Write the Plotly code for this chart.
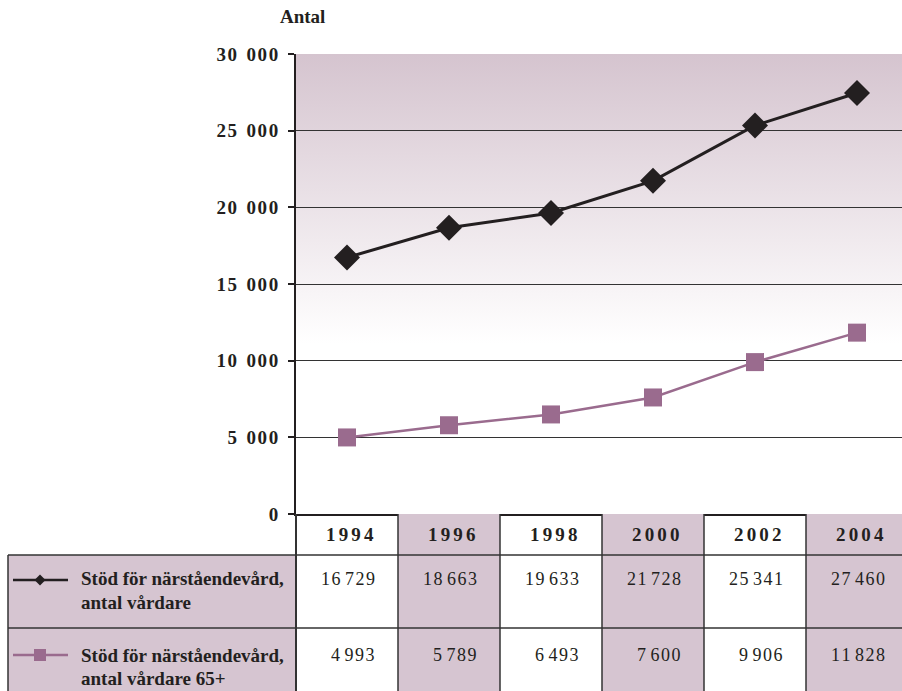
import base64
import plotly.graph_objects as go

# ---- data -------------------------------------------------------------
years = ["1994", "1996", "1998", "2000", "2002", "2004"]
vardare = [16729, 18663, 19633, 21728, 25341, 27460]
vardare_65 = [4993, 5789, 6493, 7600, 9906, 11828]
row_labels = [
    ["Stöd för närståendevård,", "antal vårdare"],
    ["Stöd för närståendevård,", "antal vårdare 65+"],
]
y_ticks = [0, 5000, 10000, 15000, 20000, 25000, 30000]
y_title = "Antal"

# ---- styling ----------------------------------------------------------
FONT = "Liberation Serif"
INK = "#231f20"
PURPLE = "#9a6b8e"
SHADE = "#d6c5d1"
RULE = "#333333"

W, H = 902, 691
L, R, T, B = 296, 0, 54, 177
PW, PH = W - L - R, H - T - B
COL_W = 102  # pixel width of one year column
X_LO = -0.5
X_HI = X_LO + PW / COL_W

HAIR, SIXTH, ENSP = "\u200a", "\u2006", "\u2002"


def px(x):
    """pixel x -> paper x"""
    return (x - L) / PW


def py(y):
    """pixel y -> paper y"""
    return (H - B - y) / PH


def spaced(n, sep, group_sep):
    groups = f"{n:,}".split(",")
    return group_sep.join(sep.join(g) for g in groups)


fig = go.Figure()

fig.add_trace(go.Scatter(
    x=years, y=vardare, mode="lines+markers",
    line=dict(color=INK, width=3),
    marker=dict(symbol="diamond", size=20, color=INK),
    hoverinfo="skip", showlegend=False, cliponaxis=False,
))
fig.add_trace(go.Scatter(
    x=years, y=vardare_65, mode="lines+markers",
    line=dict(color=PURPLE, width=2.5),
    marker=dict(symbol="square", size=18, color=PURPLE),
    hoverinfo="skip", showlegend=False, cliponaxis=False,
))

# vertical gradient behind the plotting area
svg = (
    '<svg xmlns="http://www.w3.org/2000/svg" width="10" height="100" '
    'preserveAspectRatio="none"><defs><linearGradient id="g" x1="0" y1="1" '
    'x2="0" y2="0"><stop offset="0.37" stop-color="#ffffff"/>'
    '<stop offset="1" stop-color="#d5c4cf"/></linearGradient></defs>'
    '<rect width="10" height="100" fill="url(#g)"/></svg>'
)
bg_src = "data:image/svg+xml;base64," + base64.b64encode(svg.encode()).decode()

shapes = []
annotations = []

# table geometry (pixel rows)
HEAD_TOP, HEAD_BOT = H - B, 555
ROW1_BOT, ROW2_BOT = 628, H
rows = [(HEAD_BOT, HEAD_TOP), (ROW1_BOT, HEAD_BOT), (ROW2_BOT, ROW1_BOT)]
LABEL_LEFT = 8

# shaded year columns (every second column)
for i in range(len(years)):
    if i % 2 == 1:
        for bot, top in rows:
            shapes.append(dict(type="rect", xref="x", yref="paper",
                               x0=i - 0.5, x1=i + 0.5, y0=py(bot), y1=py(top),
                               fillcolor=SHADE, line=dict(width=0), layer="above"))
# label column
shapes.append(dict(type="rect", xref="paper", yref="paper",
                   x0=px(LABEL_LEFT), x1=0, y0=py(ROW2_BOT), y1=py(HEAD_BOT),
                   fillcolor=SHADE, line=dict(width=0), layer="above"))
# table rules
for yy in (HEAD_BOT, ROW1_BOT):
    shapes.append(dict(type="line", xref="paper", yref="paper",
                       x0=px(LABEL_LEFT), x1=1, y0=py(yy), y1=py(yy),
                       line=dict(color=RULE, width=1.5), layer="above"))
shapes.append(dict(type="line", xref="paper", yref="paper",
                   x0=px(LABEL_LEFT), x1=px(LABEL_LEFT), y0=py(ROW2_BOT), y1=py(HEAD_BOT),
                   line=dict(color=RULE, width=1.5), layer="above"))
shapes.append(dict(type="line", xref="paper", yref="paper",
                   x0=0, x1=0, y0=py(ROW2_BOT), y1=0,
                   line=dict(color=RULE, width=2), layer="above"))
for i in range(1, len(years)):
    shapes.append(dict(type="line", xref="x", yref="paper",
                       x0=i - 0.5, x1=i - 0.5, y0=py(ROW2_BOT), y1=0,
                       line=dict(color=RULE, width=1.5), layer="above"))

# legend keys inside the label column
key_y = [580, 655]
for k, (color, width) in enumerate([(INK, 2.5), (PURPLE, 2.5)]):
    yk = py(key_y[k])
    shapes.append(dict(type="line", xref="paper", yref="paper",
                       x0=px(13), x1=px(68), y0=yk, y1=yk,
                       line=dict(color=color, width=width), layer="above"))
d = 5.5
shapes.append(dict(type="path", xref="paper", yref="paper",
                   path=(f"M {px(40 - d)} {py(key_y[0])} L {px(40)} {py(key_y[0] - d)} "
                         f"L {px(40 + d)} {py(key_y[0])} L {px(40)} {py(key_y[0] + d)} Z"),
                   fillcolor=INK, line=dict(width=0), layer="above"))
s = 6
shapes.append(dict(type="rect", xref="paper", yref="paper",
                   x0=px(40 - s), x1=px(40 + s), y0=py(key_y[1] + s), y1=py(key_y[1] - s),
                   fillcolor=PURPLE, line=dict(width=0), layer="above"))

# header years
for i, yr in enumerate(years):
    annotations.append(dict(xref="x", yref="paper", x=i + 0.03, y=py(534),
                            text=SIXTH.join(yr), showarrow=False,
                            xanchor="center", yanchor="middle",
                            font=dict(family=FONT, size=19, color=INK, weight="bold")))
# table values
for r, (series, yc) in enumerate([(vardare, 579), (vardare_65, 655)]):
    for i, v in enumerate(series):
        annotations.append(dict(xref="x", yref="paper", x=i + 0.29, y=py(yc),
                                text=spaced(v, HAIR, " "), showarrow=False,
                                xanchor="right", yanchor="middle",
                                font=dict(family=FONT, size=18, color=INK)))
# row labels
for r, (lines, y1, y2) in enumerate([(row_labels[0], 578, 602), (row_labels[1], 655, 678)]):
    for txt, yy in zip(lines, (y1, y2)):
        annotations.append(dict(xref="paper", yref="paper", x=px(79), y=py(yy),
                                text=txt, showarrow=False,
                                xanchor="left", yanchor="middle",
                                font=dict(family=FONT, size=19, color=INK, weight="bold")))
# axis title
annotations.append(dict(xref="paper", yref="paper", x=px(302), y=py(16),
                        text=y_title, showarrow=False, xanchor="center", yanchor="middle",
                        font=dict(family=FONT, size=19, color=INK, weight="bold")))

fig.update_layout(
    width=W, height=H,
    margin=dict(l=L, r=R, t=T, b=B, pad=0),
    paper_bgcolor="white", plot_bgcolor="white",
    images=[dict(source=bg_src, xref="paper", yref="paper", x=0, y=1,
                 sizex=1, sizey=1, sizing="stretch", xanchor="left",
                 yanchor="top", layer="below")],
    shapes=shapes,
    annotations=annotations,
    xaxis=dict(type="category", range=[X_LO, X_HI], showticklabels=False,
               showgrid=False, zeroline=False, showline=True,
               linecolor=INK, linewidth=2, ticks=""),
    yaxis=dict(range=[0, 30000], tickvals=y_ticks,
               ticktext=[spaced(v, HAIR, ENSP) for v in y_ticks],
               ticks="outside", ticklen=6, tickwidth=1.5, tickcolor=INK,
               ticklabelstandoff=6,
               showgrid=True, gridcolor=RULE, gridwidth=1,
               zeroline=False, showline=True, linecolor=INK, linewidth=2,
               tickfont=dict(family=FONT, size=19, color=INK, weight="bold")),
)

fig.write_html("out.html")
